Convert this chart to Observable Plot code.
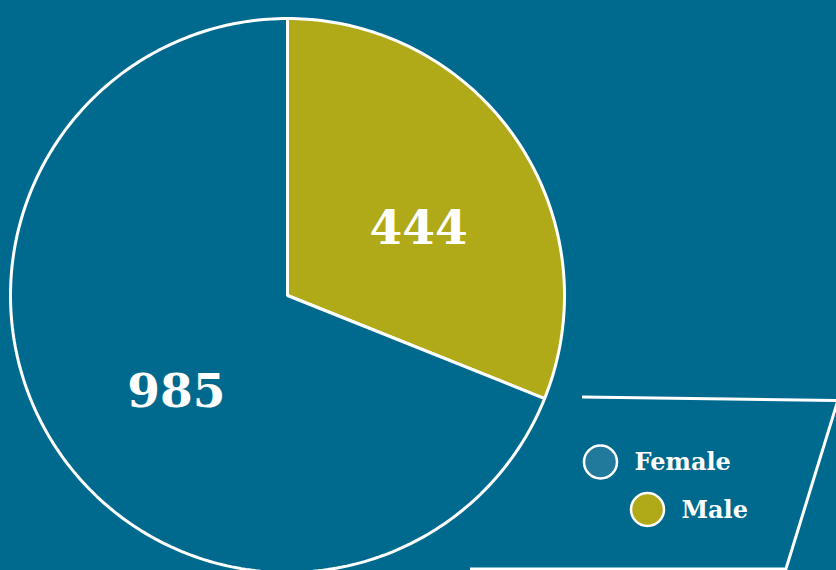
<!DOCTYPE html>
<html>
<head>
<meta charset="utf-8">
<script src="https://cdn.jsdelivr.net/npm/d3@7"></script>
<script src="https://cdn.jsdelivr.net/npm/@observablehq/plot@0.6"></script>
<style>
  html, body { margin: 0; padding: 0; background: #006a8e; }
  #wrap { position: relative; width: 836px; height: 570px; overflow: hidden; }
  #wrap svg { position: absolute; left: 0; top: 0; }
</style>
</head>
<body>
<div id="wrap"></div>
<script>
// ---- data ----
const categories = ["Female", "Male"];
const counts = [985, 444];
const sliceColors = ["#006a8e", "#b0aa19"];
const legendColors = ["#217a9b", "#b0aa19"];
const pieOrder = ["Male", "Female"]; // clockwise from 12 o'clock

// ---- layout ----
const W = 836, H = 570;
const cx = 287, cy = 295, R = 277;
const FONT = "'DejaVu Serif', serif";

const rows = pieOrder.map(g => ({gender: g, value: counts[categories.indexOf(g)]}));
const arcs = d3.pie().sort(null).value(d => d.value)(rows);

// polygon outline for each slice (unit circle coordinates, y down)
const points = [];
for (const a of arcs) {
  const g = a.data.gender;
  points.push({gender: g, x: 0, y: 0});
  const n = Math.max(2, Math.ceil((a.endAngle - a.startAngle) / (Math.PI / 180)));
  for (let i = 0; i <= n; i++) {
    const t = a.startAngle + (a.endAngle - a.startAngle) * i / n;
    points.push({gender: g, x: Math.sin(t), y: -Math.cos(t)});
  }
}

const labelR = 0.528;
const labels = arcs.map(a => {
  const t = (a.startAngle + a.endAngle) / 2;
  return {gender: a.data.gender, value: a.data.value, x: Math.sin(t) * labelR, y: -Math.cos(t) * labelR};
});

const chart = Plot.plot({
  width: W,
  height: H,
  margin: 0,
  x: {domain: [-cx / R, (W - cx) / R], range: [0, W], axis: null},
  y: {domain: [-cy / R, (H - cy) / R], range: [0, H], axis: null},
  color: {domain: categories, range: sliceColors},
  style: {background: "transparent", overflow: "visible"},
  marks: [
    Plot.line(points, {
      x: "x", y: "y", z: "gender",
      fill: "gender", stroke: "white", strokeWidth: 3,
      curve: "linear-closed", strokeLinejoin: "miter"
    }),
    Plot.text(labels, {
      x: "x", y: "y", text: d => String(d.value),
      fill: "white", fontSize: 47, fontWeight: "bold",
      fontFamily: FONT, dx: 10, dy: 15
    })
  ]
});
document.getElementById("wrap").appendChild(chart);

// ---- legend overlay ----
const lg = d3.select("#wrap").append("svg")
  .attr("width", W).attr("height", H)
  .style("pointer-events", "none");

lg.append("path")
  .attr("d", "M582,397 L838,400.5 M838,400 L785,572 M470,569 L785,569")
  .attr("fill", "none").attr("stroke", "white").attr("stroke-width", 3);

const items = lg.selectAll("g.item").data(categories).join("g")
  .attr("class", "item")
  .attr("transform", (d, i) => `translate(${600.5 + i * 47},${462 + i * 47.5})`);
items.append("circle")
  .attr("r", 16.5)
  .attr("fill", (d, i) => legendColors[i])
  .attr("stroke", "white").attr("stroke-width", 2.5);
items.append("text")
  .attr("x", 34).attr("y", 8)
  .attr("fill", "white")
  .style("font-family", FONT).style("font-weight", "bold").style("font-size", "24px")
  .text(d => d);
</script>
</body>
</html>
